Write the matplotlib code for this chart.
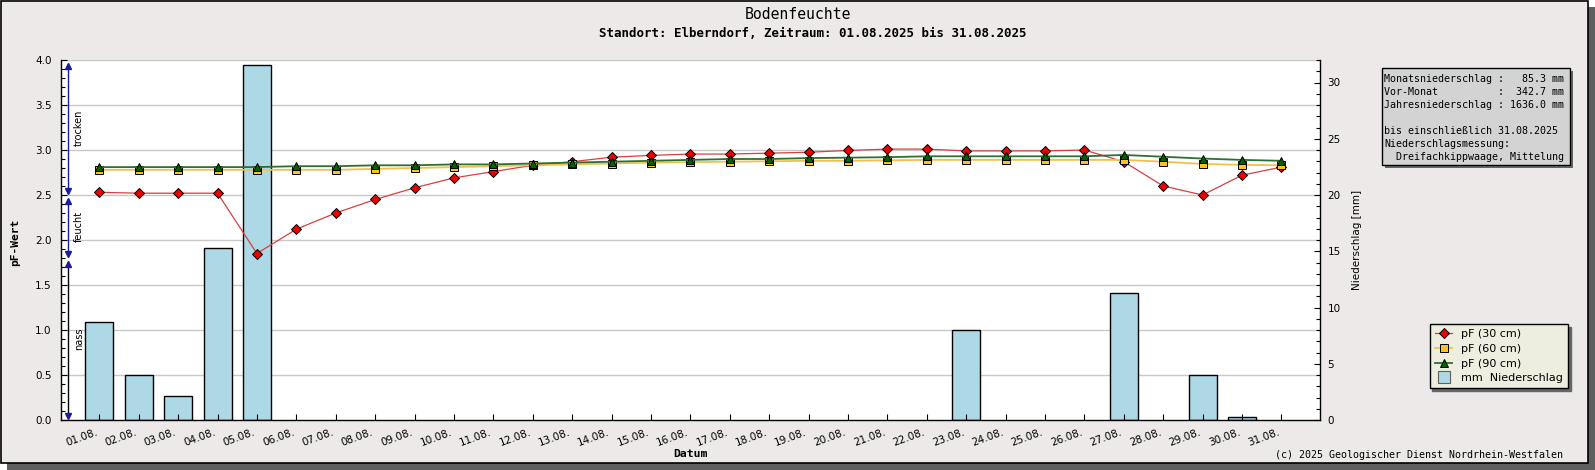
import matplotlib
matplotlib.use("Agg")
import matplotlib.pyplot as plt
import numpy as np
from matplotlib.patches import Rectangle
from matplotlib.lines import Line2D
from matplotlib.transforms import ScaledTranslation, blended_transform_factory
from matplotlib.ticker import MultipleLocator

# ---------------- data ----------------
days = list(range(1, 32))
tick_labels = [f"{d:02d}.08." for d in days]

rain_mm = [8.7, 4.0, 2.1, 15.3, 31.6,
           0, 0, 0, 0, 0, 0, 0, 0, 0, 0, 0, 0, 0, 0, 0, 0, 0,
           8.0, 0, 0, 0, 11.3, 0, 4.0, 0.3, 0]

pf30 = [2.53, 2.52, 2.52, 2.52, 1.85, 2.12, 2.30, 2.45, 2.58, 2.69, 2.76,
        2.83, 2.87, 2.92, 2.94, 2.955, 2.955, 2.965, 2.975, 2.995, 3.01,
        3.01, 2.99, 2.99, 2.99, 3.00, 2.87, 2.60, 2.50, 2.72, 2.81]

pf60 = [2.78, 2.78, 2.78, 2.78, 2.78, 2.78, 2.78, 2.79, 2.80, 2.81, 2.82,
        2.83, 2.84, 2.85, 2.86, 2.865, 2.87, 2.875, 2.88, 2.88, 2.885,
        2.89, 2.89, 2.89, 2.89, 2.89, 2.89, 2.87, 2.845, 2.835, 2.83]

pf90 = [2.81, 2.81, 2.81, 2.81, 2.81, 2.82, 2.82, 2.83, 2.83, 2.84, 2.84,
        2.85, 2.86, 2.87, 2.88, 2.89, 2.90, 2.90, 2.91, 2.915, 2.92,
        2.93, 2.93, 2.93, 2.93, 2.93, 2.945, 2.925, 2.905, 2.89, 2.88]

zones = [("nass", 0.0, 1.8), ("feucht", 1.8, 2.5), ("trocken", 2.5, 4.0)]

series_labels = ["pF (30 cm)", "pF (60 cm)", "pF (90 cm)", "mm  Niederschlag"]

info_lines = ["Monatsniederschlag :   85.3 mm",
              "Vor-Monat          :  342.7 mm",
              "Jahresniederschlag : 1636.0 mm",
              "",
              "bis einschließlich 31.08.2025",
              "Niederschlagsmessung:",
              "  Dreifachkippwaage, Mittelung"]

title = "Bodenfeuchte"
subtitle = "Standort: Elberndorf, Zeitraum: 01.08.2025 bis 31.08.2025"
copyright_txt = "(c) 2025 Geologischer Dienst Nordrhein-Westfalen"

# ---------------- layout helpers ----------------
W, H = 1595, 470
DPI = 100
fig = plt.figure(figsize=(W / DPI, H / DPI), dpi=DPI, facecolor="white")


def fx(x):
    return x / W


def fy(y):
    return 1 - y / H


MONO = "DejaVu Sans Mono"
SANS = "DejaVu Sans"
BG = "#ECE9E8"

# frame with shadow
fig.patches.append(Rectangle((fx(7), fy(470)), fx(1595) - fx(7), fy(7) - fy(470),
                             transform=fig.transFigure, fc="#5f5f5f", ec="none", zorder=-10))
fig.patches.append(Rectangle((fx(0.5), fy(463)), fx(1588) - fx(0.5), fy(0.5) - fy(463),
                             transform=fig.transFigure, fc=BG, ec="black", lw=1.2, zorder=-9))

L, R, T, B = 60.7, 1320, 60, 420
rect = [fx(L), fy(B), (R - L) / W, (B - T) / H]

ax_r = fig.add_axes(rect)
ax_p = fig.add_axes(rect, sharex=ax_r)
ax_r.set_zorder(1)
ax_p.set_zorder(2)
ax_p.patch.set_visible(False)
ax_r.set_facecolor("white")

PF_MAX, RAIN_MAX = 4.0, 32.0
ax_p.set_ylim(0, PF_MAX)
ax_r.set_ylim(0, RAIN_MAX)
ax_p.set_xlim(0.02, 31.98)

# grid (behind bars), aligned with pF ticks
grid_pf = np.arange(0.5, PF_MAX + 0.01, 0.5)
ax_r.hlines(grid_pf * RAIN_MAX / PF_MAX, 0, 1,
            transform=blended_transform_factory(ax_r.transAxes, ax_r.transData),
            color="#c8c8c8", lw=1.0, zorder=0)

# bars
bd = [d for d, v in zip(days, rain_mm) if v > 0]
bv = [v for v in rain_mm if v > 0]
ax_r.bar(bd, bv, width=0.71, color="#ADD8E6", edgecolor="black", linewidth=1.0, zorder=2)

# line styles
st30 = dict(color="#D84040", lw=0.9, marker="D", ms=5.6, mfc="#EE0000", mec="black", mew=0.7)
st60 = dict(color="#F2C050", lw=1.3, marker="s", ms=5.6, mfc="#FFC125", mec="black", mew=0.7)
st90 = dict(color="#2F6F2F", lw=1.3, marker="^", ms=6.0, mfc="#006400", mec="black", mew=0.7)

ax_p.plot(days, pf30, zorder=3, **st30)
ax_p.plot(days, pf60, zorder=4, **st60)
ax_p.plot(days, pf90, zorder=5, **st90)

# spines
for s in ["top", "right"]:
    ax_p.spines[s].set_visible(False)
for s in ["top", "left", "bottom"]:
    ax_r.spines[s].set_visible(False)
ax_r.spines["right"].set_linewidth(1.0)
ax_p.spines["left"].set_linewidth(1.0)
ax_p.spines["bottom"].set_linewidth(1.0)

# left axis ticks
ax_p.set_yticks(np.arange(0, PF_MAX + 0.01, 0.5))
ax_p.set_yticklabels([f"{v:.1f}" for v in np.arange(0, PF_MAX + 0.01, 0.5)])
ax_p.yaxis.set_minor_locator(MultipleLocator(0.1))
ax_p.tick_params(axis="y", which="major", direction="in", length=4.5, width=0.8,
                 left=True, right=False, pad=6.5, labelsize=7.5)
ax_p.tick_params(axis="y", which="minor", direction="in", length=3.2, width=0.8,
                 left=True, right=False)

# right axis ticks
ax_r.yaxis.tick_right()
ax_r.set_yticks([0, 5, 10, 15, 20, 25, 30])
ax_r.yaxis.set_minor_locator(MultipleLocator(1))
ax_r.tick_params(axis="y", which="major", direction="in", length=4.5, width=0.8,
                 right=True, left=False, labelright=True, labelleft=False, pad=5.5, labelsize=7.5)
ax_r.tick_params(axis="y", which="minor", direction="in", length=3.2, width=0.8,
                 right=True, left=False)
ax_r.tick_params(axis="x", which="both", bottom=False, labelbottom=False)

# x ticks
ax_p.set_xticks(days)
ax_p.set_xticklabels(tick_labels, rotation=20, ha="right", rotation_mode="anchor", fontsize=7.5)
ax_p.tick_params(axis="x", direction="in", length=4.5, width=0.8, pad=5)
offset = ScaledTranslation(-4 / DPI, 0, fig.dpi_scale_trans)
for lab in ax_p.get_xticklabels():
    lab.set_transform(lab.get_transform() + offset)

# zone arrows
NAVY = "#1c1c9c"
bt = blended_transform_factory(ax_p.transAxes, ax_p.transData)
xa = (68.3 - L) / (R - L)
for name, lo, hi in zones:
    a, b = lo + 0.02, hi - 0.04
    ax_p.plot([xa, xa], [a, b], transform=bt, color=("black" if name == "nass" else NAVY),
              lw=1.0, zorder=6, clip_on=False)
    ax_p.plot([xa], [b - 0.03], transform=bt, marker="^", ms=4.5, color=NAVY, zorder=7, clip_on=False)
    ax_p.plot([xa], [a + 0.03], transform=bt, marker="v", ms=4.5, color=NAVY, zorder=7, clip_on=False)
    ax_p.text(xa + 0.0085, (lo + hi) / 2, name, transform=bt, rotation=90, ha="center",
              va="center", fontsize=7, family=SANS, zorder=7)

# axis labels
fig.text(fx(15), fy(242), "pF-Wert", rotation=90, ha="center", va="center",
         family=MONO, weight="bold", fontsize=8)
fig.text(fx(1357), fy(240), "Niederschlag [mm]", rotation=90, ha="center", va="center",
         family=SANS, fontsize=7.5)
fig.text(fx(690), fy(454), "Datum", ha="center", va="center", family=MONO,
         weight="bold", fontsize=8.2)

# titles
fig.text(fx(798), fy(14.5), title, ha="center", va="center", family=MONO, fontsize=10.6)
fig.text(fx(813), fy(33.3), subtitle, ha="center", va="center", family=MONO,
         weight="bold", fontsize=9)

# info box
bx0, by0, bx1, by1 = 1381.7, 68.3, 1570, 165.3
fig.patches.append(Rectangle((fx(bx0 + 3), fy(by1 + 3)), (bx1 - bx0) / W, (by1 - by0) / H,
                             transform=fig.transFigure, fc="#666666", ec="none", zorder=1))
fig.patches.append(Rectangle((fx(bx0), fy(by1)), (bx1 - bx0) / W, (by1 - by0) / H,
                             transform=fig.transFigure, fc="#D3D3D3", ec="black", lw=1.0, zorder=2))
for i, line in enumerate(info_lines):
    if line:
        fig.text(fx(1384.3), fy(79.3 + i * 13.0), line, ha="left", va="center",
                 family=MONO, fontsize=7.2, zorder=3)

# copyright
fig.text(fx(1562.7), fy(455), copyright_txt, ha="right", va="center", family=MONO, fontsize=7.2)

# legend
handles = [
    Line2D([], [], **st30),
    Line2D([], [], **st60),
    Line2D([], [], **st90),
    Line2D([], [], ls="none", marker="s", ms=8, mfc="#ADD8E6", mec="#606060", mew=0.8),
]
leg = fig.legend(handles, series_labels, loc="upper left",
                 bbox_to_anchor=(fx(1429.7), fy(324.3)), bbox_transform=fig.transFigure,
                 frameon=True, fancybox=False, shadow={"color": "#666666", "alpha": 1},
                 facecolor="#EDEDE0", edgecolor="black", framealpha=1, borderaxespad=0,
                 prop={"family": SANS, "size": 8}, handlelength=1.6, handletextpad=0.8,
                 labelspacing=0.42, borderpad=0.45)
leg.get_frame().set_linewidth(1.0)

fig.savefig("out.png", dpi=DPI, facecolor=fig.get_facecolor())
